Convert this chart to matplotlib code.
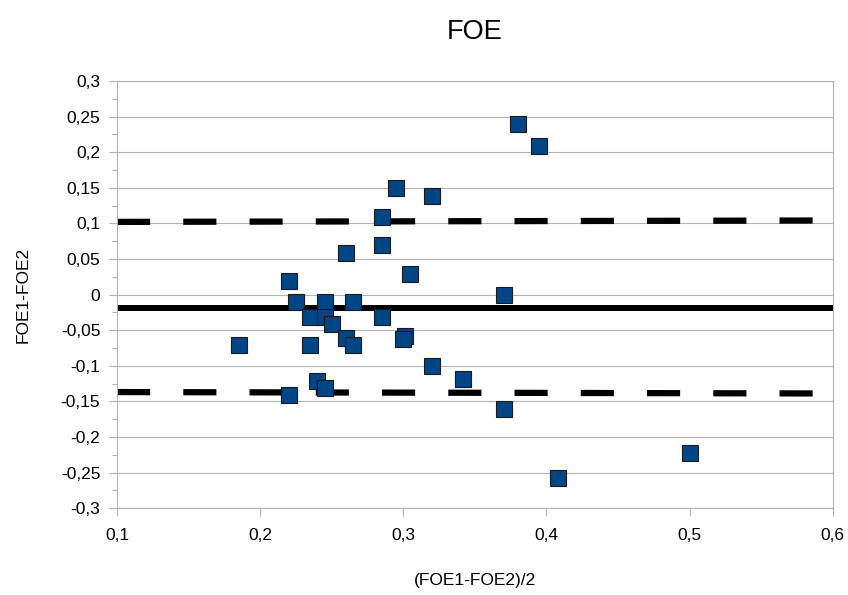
import numpy as np
import matplotlib
matplotlib.use('Agg')
import matplotlib.pyplot as plt
from matplotlib.ticker import MultipleLocator, FuncFormatter

plt.rcParams['font.family'] = ['Liberation Sans', 'DejaVu Sans']

# mean of the two measurements
mean_vals = [0.38, 0.395, 0.295, 0.32, 0.285, 0.285, 0.26, 0.305, 0.22, 0.37,
             0.225, 0.245, 0.265, 0.235, 0.245, 0.25, 0.285, 0.301, 0.300,
             0.26, 0.265, 0.185, 0.235, 0.32, 0.342, 0.24, 0.245, 0.22,
             0.37, 0.50, 0.408]
# difference of the two measurements
diff_vals = [0.239, 0.209, 0.149, 0.139, 0.109, 0.069, 0.059, 0.029, 0.019, -0.001,
             -0.011, -0.011, -0.010, -0.031, -0.031, -0.041, -0.031, -0.058, -0.062,
             -0.061, -0.071, -0.071, -0.071, -0.101, -0.118, -0.121, -0.131, -0.141,
             -0.161, -0.222, -0.258]

line_x = [0.1, 0.6]
mean_line = [-0.019, -0.019]
upper_line = [0.102, 0.104]
lower_line = [-0.137, -0.139]

fig = plt.figure(figsize=(8.48, 5.95), dpi=100)
ax = fig.add_axes([0.138, 0.146, 0.844, 0.718])

ax.plot(line_x, upper_line, color='black', lw=4.5, dashes=(5.3, 5.3), zorder=2)
ax.plot(line_x, lower_line, color='black', lw=4.5, dashes=(5.3, 5.3), zorder=2)
ax.plot(line_x, mean_line, color='black', lw=4.3, solid_capstyle='butt', zorder=2)
ax.plot(mean_vals, diff_vals, 's', color='#004586', markersize=11.5,
        markeredgecolor='#1a1a1a', markeredgewidth=0.8, zorder=3)

ax.set_xlim(0.1, 0.6)
ax.set_ylim(-0.3, 0.3)
ax.xaxis.set_major_locator(MultipleLocator(0.1))
ax.yaxis.set_major_locator(MultipleLocator(0.05))
ax.yaxis.set_minor_locator(MultipleLocator(0.025))

fmt = FuncFormatter(lambda v, p: ('%g' % round(v, 3)).replace('.', ','))
ax.xaxis.set_major_formatter(fmt)
ax.yaxis.set_major_formatter(fmt)

ax.grid(axis='y', which='major', color='#b3b3b3', lw=0.8)
ax.set_axisbelow(True)
for s in ax.spines.values():
    s.set_color('#b3b3b3')
    s.set_linewidth(0.8)
ax.tick_params(which='major', color='#b3b3b3', length=6, width=0.8, labelsize=12.5, pad=8)
ax.tick_params(which='minor', color='#b3b3b3', length=3.5, width=0.8)
ax.tick_params(axis='y', pad=6)

ax.set_title('FOE', fontsize=19.5, pad=30)
ax.set_xlabel('(FOE1-FOE2)/2', fontsize=12.5, labelpad=22)
ax.set_ylabel('FOE1-FOE2', fontsize=12.5, labelpad=22)

fig.savefig('out.png', dpi=100)
